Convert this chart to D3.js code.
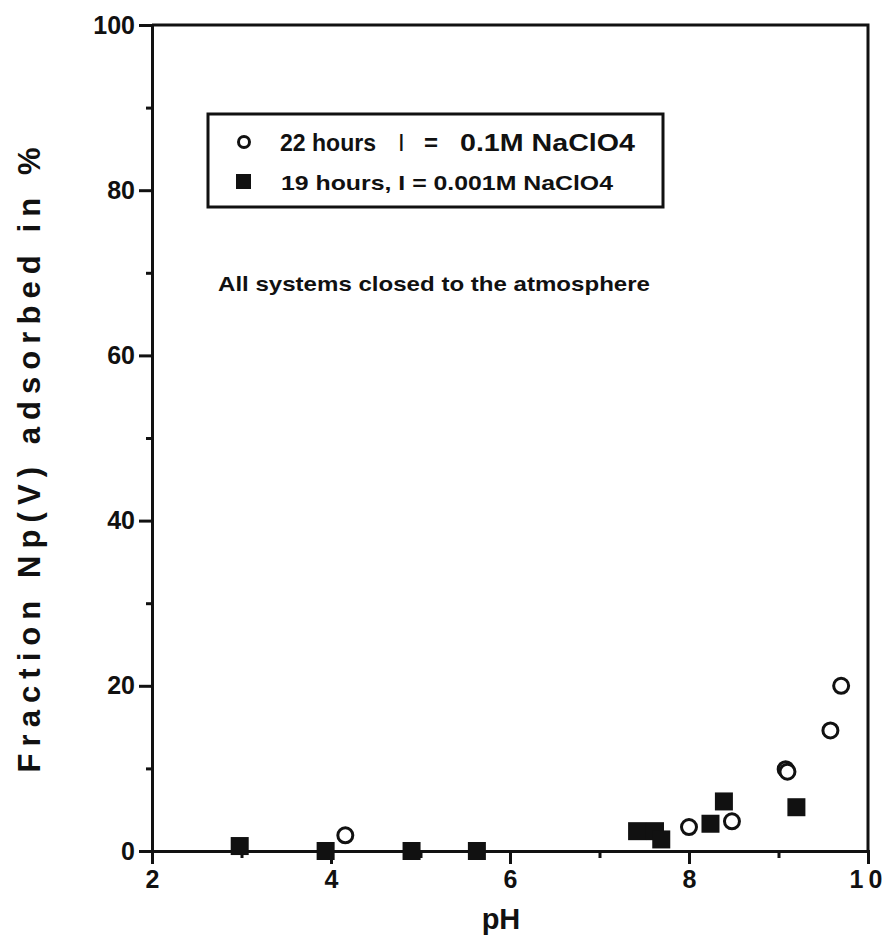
<!DOCTYPE html>
<html>
<head>
<meta charset="utf-8">
<script src="https://cdn.jsdelivr.net/npm/d3@7"></script>
<style>
  html, body { margin: 0; padding: 0; background: #fff; }
  svg { display: block; font-family: "Liberation Sans", Arial, Helvetica, sans-serif; }
</style>
</head>
<body>
<svg id="chart" width="887" height="940"></svg>
<script>
// ---- data ----
const circlePH   = [4.16, 8.00, 8.48, 9.08, 9.10, 9.58, 9.70];
const circleVal  = [1.9, 2.9, 3.6, 9.9, 9.6, 14.6, 20.0];
const squarePH   = [2.98, 3.94, 4.90, 5.63, 7.42, 7.62, 7.69, 8.24, 8.39, 9.20];
const squareVal  = [0.6, 0.0, 0.0, 0.0, 2.4, 2.4, 1.4, 3.3, 6.0, 5.3];
const xMajorTicks = [2, 4, 6, 8, 10];
const xMinorTicks = [3, 5, 7, 9];
const yMajorTicks = [0, 20, 40, 60, 80, 100];
const yMinorTicks = [10, 30, 50, 70, 90];
const legendLabels = ["22 hours", "19 hours,  I = 0.001M NaClO4"];
const legendConc = ["0.1M NaClO4"];
const noteText = "All systems closed to the atmosphere";
const xTitle = "pH";
const yTitle = "Fraction  Np(V)  adsorbed  in  %";

// ---- layout ----
const svg = d3.select("#chart");
const L = 152, R = 868, T = 25, B = 851;
const x = d3.scaleLinear().domain([2, 10]).range([L, R]);
const y = d3.scaleLinear().domain([0, 100]).range([B, T]);
const ink = "#111";
const font = "'Liberation Sans', Arial, Helvetica, sans-serif";

// frame (top + right)
svg.append("path")
  .attr("d", `M${L},${T}H${R}V${B}`)
  .attr("fill", "none").attr("stroke", ink).attr("stroke-width", 3);

// y axis
const yAxis = d3.axisLeft(y).tickValues(yMajorTicks).tickSize(13).tickPadding(4)
  .tickFormat(d3.format("d"));
const gy = svg.append("g").attr("transform", `translate(${L},0)`).call(yAxis);
gy.select(".domain").attr("stroke", ink).attr("stroke-width", 3);
gy.selectAll(".tick line").attr("stroke", ink).attr("stroke-width", 3);
gy.selectAll(".tick text").attr("fill", ink).attr("font-size", 25)
  .attr("font-weight", "bold").attr("font-family", font);
const yMinor = d3.axisLeft(y).tickValues(yMinorTicks).tickSize(6).tickFormat("");
const gym = svg.append("g").attr("transform", `translate(${L},0)`).call(yMinor);
gym.select(".domain").remove();
gym.selectAll(".tick line").attr("stroke", ink).attr("stroke-width", 3);

// x axis
const xAxis = d3.axisBottom(x).tickValues(xMajorTicks).tickSize(13).tickPadding(6)
  .tickFormat(d3.format("d"));
const gx = svg.append("g").attr("transform", `translate(0,${B})`).call(xAxis);
gx.select(".domain").attr("stroke", ink).attr("stroke-width", 3);
gx.selectAll(".tick line").attr("stroke", ink).attr("stroke-width", 3);
gx.selectAll(".tick text").attr("fill", ink).attr("font-size", 25)
  .attr("font-weight", "bold").attr("font-family", font)
  .attr("letter-spacing", d => d === 10 ? "5px" : null);
const xMinor = d3.axisBottom(x).tickValues(xMinorTicks).tickSize(7).tickFormat("");
const gxm = svg.append("g").attr("transform", `translate(0,${B})`).call(xMinor);
gxm.select(".domain").remove();
gxm.selectAll(".tick line").attr("stroke", ink).attr("stroke-width", 3);

// axis titles
svg.append("text")
  .attr("x", 501).attr("y", 929)
  .attr("text-anchor", "middle")
  .attr("font-size", 29).attr("font-weight", "bold").attr("fill", ink)
  .text(xTitle);
svg.append("text")
  .attr("transform", "translate(40,460) rotate(-90)")
  .attr("text-anchor", "middle")
  .attr("font-size", 31).attr("font-weight", "bold").attr("fill", ink)
  .attr("textLength", 625).attr("lengthAdjust", "spacing")
  .text(yTitle);

// data: squares (19 h)
const sq = 18;
svg.append("g").selectAll("rect")
  .data(squarePH.map((p, i) => ({ p, v: squareVal[i] })))
  .join("rect")
  .attr("x", d => x(d.p) - sq / 2).attr("y", d => y(d.v) - sq / 2)
  .attr("width", sq).attr("height", sq)
  .attr("fill", ink);

// data: circles (22 h)
svg.append("g").selectAll("circle")
  .data(circlePH.map((p, i) => ({ p, v: circleVal[i] })))
  .join("circle")
  .attr("cx", d => x(d.p)).attr("cy", d => y(d.v))
  .attr("r", 7.5)
  .attr("fill", "#fff").attr("stroke", ink).attr("stroke-width", 3);

// legend
const lg = svg.append("g").attr("font-family", font).attr("font-weight", "bold")
  .attr("fill", ink);
lg.append("rect")
  .attr("x", 208).attr("y", 114).attr("width", 455).attr("height", 93)
  .attr("fill", "#fff").attr("stroke", ink).attr("stroke-width", 3);
lg.append("circle").attr("cx", 244).attr("cy", 142).attr("r", 5.5)
  .attr("fill", "#fff").attr("stroke", ink).attr("stroke-width", 3);
lg.append("rect").attr("x", 236).attr("y", 174).attr("width", 15).attr("height", 15)
  .attr("fill", ink);
// row 1: "22 hours   I  =  0.1M NaClO4"
const r1 = lg.append("g").attr("font-size", 24);
r1.append("text").attr("x", 280).attr("y", 151)
  .attr("textLength", 96).attr("lengthAdjust", "spacingAndGlyphs").text(legendLabels[0]);
r1.append("text").attr("x", 398).attr("y", 151).attr("font-weight", "normal").text("I");
r1.append("text").attr("x", 424).attr("y", 151).text("=");
r1.append("text").attr("x", 460).attr("y", 151)
  .attr("textLength", 175).attr("lengthAdjust", "spacingAndGlyphs").text(legendConc[0]);
// row 2
lg.append("text").attr("x", 281).attr("y", 190).attr("font-size", 21)
  .attr("textLength", 332).attr("lengthAdjust", "spacingAndGlyphs").text(legendLabels[1]);

// annotation
svg.append("text")
  .attr("x", 218).attr("y", 291)
  .attr("font-size", 21).attr("font-weight", "bold").attr("fill", ink)
  .attr("textLength", 432).attr("lengthAdjust", "spacingAndGlyphs")
  .text(noteText);
</script>
</body>
</html>
